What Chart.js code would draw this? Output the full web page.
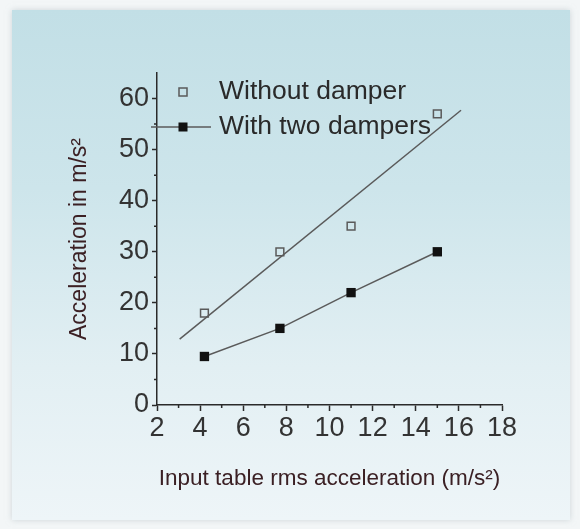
<!DOCTYPE html>
<html lang="en">
<head>
  <meta charset="UTF-8" />
  <title>Acceleration with and without dampers</title>
  <script src="https://cdn.jsdelivr.net/npm/chart.js"></script>
  <style>
    body {
      margin: 0;
      background-color: #f3f6f7;
    }
    .wrap {
      position: relative;
      width: 580px;
      height: 529px;
    }
    .panel {
      position: absolute;
      left: 12px;
      top: 10px;
      width: 558px;
      height: 510px;
      background: linear-gradient(to bottom, #c2dfe6 0%, #cde5eb 35%, #e2eff3 70%, #eef5f8 100%);
      box-shadow: 0 0 6px rgba(180, 190, 195, 0.6);
    }
    canvas {
      position: absolute;
      left: 0;
      top: 0;
    }
  </style>
</head>
<body>
  <div class="wrap">
    <div class="panel"></div>
    <canvas id="accChart" width="580" height="529"></canvas>
  </div>

  <script>
    // input table rms acceleration (m/s2)
    const inputAccel = [4.2, 7.7, 11, 15];
    const withoutDamper = [18, 30, 35, 57];
    const withTwoDampers = [9.5, 15, 22, 30];
    // straight fit through the "without damper" points
    const fitX = [3.05, 16.1];
    const fitY = [12.9, 57.7];

    const xTicks = [2, 4, 6, 8, 10, 12, 14, 16, 18];
    const yTicks = [0, 10, 20, 30, 40, 50, 60];
    const xMinor = [3, 5, 7, 9, 11, 13, 15, 17];
    const yMinor = [5, 15, 25, 35, 45, 55];

    const toPoints = (xs, ys) => xs.map((x, i) => ({ x: x, y: ys[i] }));
    const font = "'Liberation Sans', Arial, sans-serif";
    const ink = '#2a2a2a';
    const lineGrey = '#5a5a5a';

    // small ticks between the labelled ones
    const minorTicks = {
      id: 'minorTicks',
      afterDraw(chart) {
        const { ctx, scales: { x, y }, chartArea } = chart;
        ctx.save();
        ctx.strokeStyle = ink;
        ctx.lineWidth = 1.5;
        ctx.beginPath();
        xMinor.forEach(v => {
          const px = x.getPixelForValue(v);
          ctx.moveTo(px, chartArea.bottom);
          ctx.lineTo(px, chartArea.bottom + 3);
        });
        yMinor.forEach(v => {
          const py = y.getPixelForValue(v);
          ctx.moveTo(chartArea.left, py);
          ctx.lineTo(chartArea.left - 3, py);
        });
        ctx.stroke();
        ctx.restore();
      }
    };

    // legend sits inside the plot, top left
    const innerLegend = {
      id: 'innerLegend',
      afterDatasetsDraw(chart) {
        const { ctx, chartArea } = chart;
        const ds = chart.data.datasets;
        const mx = chartArea.left + 26;
        const tx = chartArea.left + 62;
        const rows = [chartArea.top + 19, chartArea.top + 54];
        ctx.save();
        ctx.font = '26.5px ' + font;
        ctx.textBaseline = 'middle';
        ctx.fillStyle = ink;

        // row 1: open square
        ctx.strokeStyle = ds[0].borderColor;
        ctx.lineWidth = 1.5;
        ctx.strokeRect(mx - 4, rows[0] - 4, 8, 8);
        ctx.fillText(ds[0].label, tx, rows[0]);

        // row 2: line with filled square
        ctx.strokeStyle = ds[1].borderColor;
        ctx.beginPath();
        ctx.moveTo(chartArea.left - 6, rows[1]);
        ctx.lineTo(tx - 8, rows[1]);
        ctx.stroke();
        ctx.fillStyle = ds[1].pointBackgroundColor;
        ctx.fillRect(mx - 4.5, rows[1] - 4.5, 9, 9);
        ctx.fillStyle = ink;
        ctx.fillText(ds[1].label, tx, rows[1]);
        ctx.restore();
      }
    };

    new Chart(document.getElementById('accChart'), {
      type: 'scatter',
      data: {
        datasets: [
          {
            label: 'Without damper',
            data: toPoints(inputAccel, withoutDamper),
            pointStyle: 'rect',
            pointRadius: 5.5,
            pointBackgroundColor: 'rgba(0,0,0,0)',
            borderColor: lineGrey,
            pointBorderColor: lineGrey,
            pointBorderWidth: 1.5,
            showLine: false
          },
          {
            label: 'With two dampers',
            data: toPoints(inputAccel, withTwoDampers),
            pointStyle: 'rect',
            pointRadius: 6.6,
            pointBackgroundColor: '#111',
            pointBorderColor: '#111',
            pointBorderWidth: 0,
            borderColor: lineGrey,
            borderWidth: 1.5,
            showLine: true
          },
          {
            label: 'fit',
            data: toPoints(fitX, fitY),
            pointRadius: 0,
            borderColor: lineGrey,
            borderWidth: 1.5,
            showLine: true
          }
        ]
      },
      options: {
        responsive: false,
        animation: false,
        layout: { padding: { top: 73, right: 78, bottom: 0, left: 0 } },
        plugins: {
          legend: { display: false },
          tooltip: { enabled: false }
        },
        scales: {
          x: {
            type: 'linear',
            min: 2,
            max: 18,
            afterFit: s => { s.height = 124; },
            afterBuildTicks: s => { s.ticks = xTicks.map(v => ({ value: v })); },
            border: { color: ink, width: 1.5 },
            grid: { drawOnChartArea: false, tickLength: 6, tickColor: ink, tickWidth: 1.5 },
            ticks: { color: '#333', padding: 1, font: { family: font, size: 27 } },
            title: {
              display: true,
              text: 'Input table rms acceleration (m/s²)',
              color: '#3b2024',
              font: { family: font, size: 22.5 },
              padding: { top: 0, bottom: 37 }
            }
          },
          y: {
            min: 0,
            max: 65,
            afterFit: s => { s.width = 157; },
            afterBuildTicks: s => { s.ticks = yTicks.map(v => ({ value: v })); },
            border: { color: ink, width: 1.5 },
            grid: { drawOnChartArea: false, tickLength: 5, tickColor: ink, tickWidth: 1.5 },
            ticks: { color: '#333', padding: 3, font: { family: font, size: 27 } },
            title: {
              display: true,
              text: 'Acceleration in m/s²',
              color: '#3b2024',
              font: { family: font, size: 23 },
              padding: { top: 66, bottom: 0 }
            }
          }
        }
      },
      plugins: [minorTicks, innerLegend]
    });
  </script>
</body>
</html>
